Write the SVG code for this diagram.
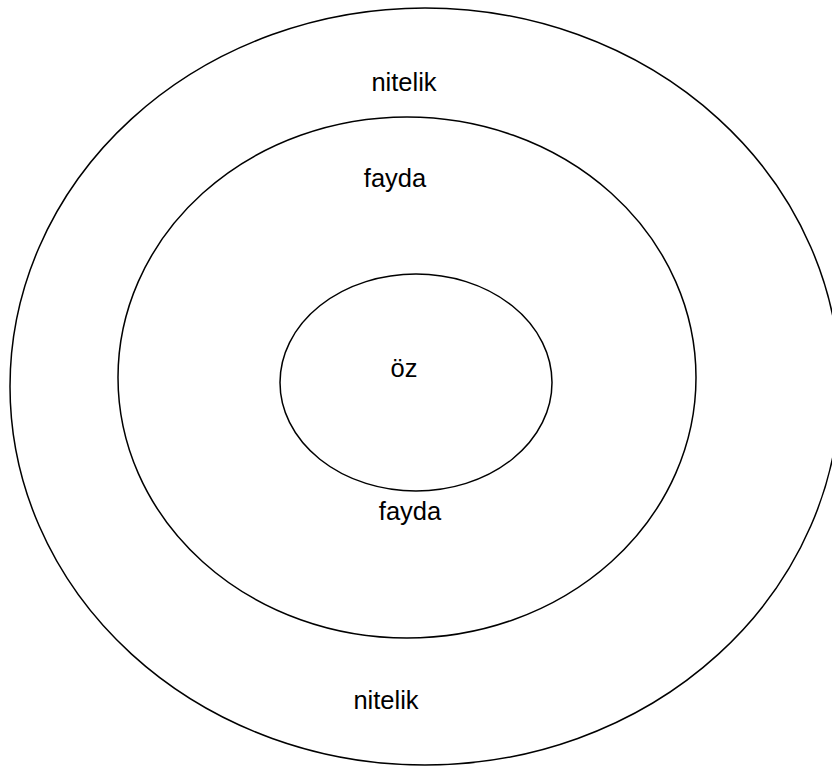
<svg xmlns="http://www.w3.org/2000/svg" width="832" height="771" viewBox="0 0 832 771">
<style>
.e{fill:none;stroke:#000;stroke-width:1.5}
.t{font-family:"Liberation Sans",Arial,sans-serif;font-size:25.5px;fill:#000;text-anchor:middle}
</style>
<rect width="832" height="771" fill="#fff"/>
<g id="outer"><ellipse class="e" cx="425" cy="386.5" rx="415" ry="378.5"/></g>
<g id="middle"><ellipse class="e" cx="407" cy="377.5" rx="289" ry="260.5"/></g>
<g id="inner"><ellipse class="e" cx="416" cy="382.5" rx="136" ry="108.5"/></g>
<g id="labels">
<text class="t" x="404" y="91">nitelik</text>
<text class="t" x="395" y="187">fayda</text>
<text class="t" x="404" y="377">öz</text>
<text class="t" x="410" y="520">fayda</text>
<text class="t" x="386" y="709">nitelik</text>
</g>
</svg>
